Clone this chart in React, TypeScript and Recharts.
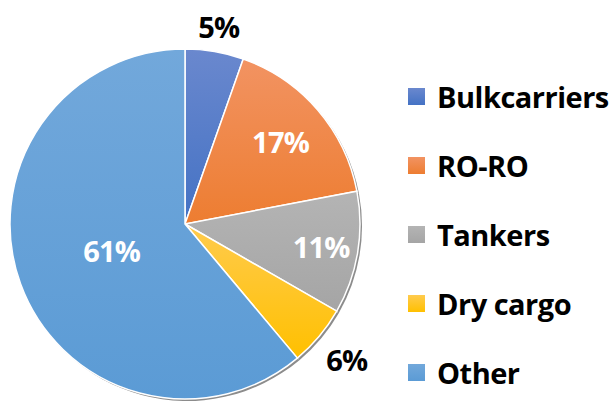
import React from 'react';
import { PieChart, Pie, Cell, Legend } from 'recharts';

const categories = ['Bulkcarriers', 'RO-RO', 'Tankers', 'Dry cargo', 'Other'];
const shares = [5.4, 16.6, 11.3, 5.6, 61.1];

const data = categories.map((name, i) => ({ name, value: shares[i] }));

// top / bottom colours of each slice gradient
const topColors = ['#6A88CE', '#F29362', '#B4B4B4', '#FFCB4E', '#72A8DB'];
const bottomColors = ['#4472C4', '#ED7D31', '#A5A5A5', '#FFC000', '#5B9BD5'];

// label placement: radius from centre, and whether label sits outside
const labelRadius = [200, 126, 138, 211, 78];
const labelOutside = [true, false, false, true, false];

const FONT = '"Open Sans", Lato, sans-serif';
const RADIAN = Math.PI / 180;

const renderLabel = (props: any) => {
  const { cx, cy, midAngle, percent, index } = props;
  const r = labelRadius[index];
  const x = cx + r * Math.cos(-midAngle * RADIAN);
  const y = cy + r * Math.sin(-midAngle * RADIAN);
  return (
    <text
      x={x}
      y={y}
      fill={labelOutside[index] ? '#000' : '#fff'}
      textAnchor="middle"
      dominantBaseline="central"
      fontFamily={FONT}
      fontWeight={700}
      fontSize={29}
      letterSpacing={-0.8}
    >
      {`${Math.round(percent * 100)}%`}
    </text>
  );
};

const renderLegend = () => (
  <div style={{ fontFamily: FONT }}>
    {categories.map((c, i) => (
      <div key={c} style={{ display: 'flex', alignItems: 'center', height: 69 }}>
        <div
          style={{
            width: 17,
            height: 17,
            marginRight: 12,
            background: `linear-gradient(${topColors[i]}, ${bottomColors[i]})`,
          }}
        />
        <span style={{ fontSize: 29, fontWeight: 700, color: '#000', letterSpacing: -0.5 }}>{c}</span>
      </div>
    ))}
  </div>
);

export default function App() {
  return (
    <div style={{ position: 'absolute', left: 0, top: 0, width: 613, height: 403, background: '#fff' }}>
      <PieChart width={613} height={403} margin={{ top: 0, right: 0, bottom: 0, left: 0 }}>
        <defs>
          {categories.map((c, i) => (
            <linearGradient key={c} id={`grad${i}`} x1="0" y1="0" x2="0" y2="1">
              <stop offset="0%" stopColor={topColors[i]} />
              <stop offset="100%" stopColor={bottomColors[i]} />
            </linearGradient>
          ))}
        </defs>
        {/* soft shadow behind the pie */}
        <Pie
          data={data}
          dataKey="value"
          cx={187}
          cy={226}
          outerRadius={175}
          startAngle={90}
          endAngle={-270}
          stroke="none"
          fill="#8c8c8c"
          isAnimationActive={false}
          legendType="none"
        />
        <Pie
          data={data}
          dataKey="value"
          nameKey="name"
          cx={185}
          cy={224}
          outerRadius={175}
          startAngle={90}
          endAngle={-270}
          stroke="#fff"
          strokeWidth={1.5}
          label={renderLabel}
          labelLine={false}
          isAnimationActive={false}
        >
          {data.map((d, i) => (
            <Cell key={d.name} fill={`url(#grad${i})`} />
          ))}
        </Pie>
        <Legend
          layout="vertical"
          verticalAlign="top"
          align="right"
          wrapperStyle={{ left: 408, top: 62, width: 205 }}
          content={renderLegend}
        />
      </PieChart>
    </div>
  );
}
